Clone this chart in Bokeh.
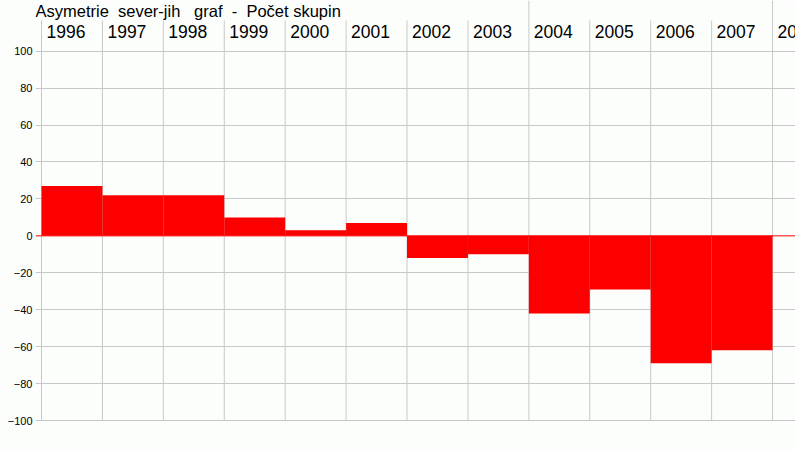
from bokeh.plotting import figure
from bokeh.models import Range1d, FixedTicker, Span
from bokeh.core.properties import value
from bokeh.embed import file_html
from bokeh.resources import INLINE

# ---- data ----
years = ["1996", "1997", "1998", "1999", "2000", "2001", "2002",
         "2003", "2004", "2005", "2006", "2007", "2008"]
values = [27, 22, 22, 10, 3, 7, -12, -10, -42, -29, -69, -62, 0]
y_ticks = [-100, -80, -60, -40, -20, 0, 20, 40, 60, 80, 100]
title_text = "Asymetrie\u00a0 sever-jih\u00a0\u00a0 graf\u00a0 -\u00a0 Počet skupin"

# ---- layout constants (reference pixel geometry) ----
W, H = 795, 450
COL = 60.92                 # px per year column
X0_PX = 41                  # px of first column edge
FRAME_L_PX = 35
FRAME_B_PX = 422
ZERO_PX = 235.35
PPU = 1.8465                # px per value unit

def ypx(py):
    return (ZERO_PX - py) / PPU

x_start = (FRAME_L_PX - X0_PX) / COL
x_end = (W - X0_PX) / COL
y_end = ypx(0)
y_start = ypx(FRAME_B_PX)

BG = "#fcfefc"
GRID = "#c8c8c8"
RED = "#fc0000"
FONT = "Liberation Sans"

p = figure(width=W, height=H, output_backend="svg", toolbar_location=None,
           x_range=Range1d(x_start, x_end), y_range=Range1d(y_start, y_end),
           x_axis_location=None, min_border_left=FRAME_L_PX,
           min_border_right=0, min_border_top=0,
           min_border_bottom=H - FRAME_B_PX)
p.background_fill_color = BG
p.border_fill_color = BG
p.outline_line_color = None

# y axis / horizontal grid
p.yaxis.ticker = FixedTicker(ticks=y_ticks)
p.yaxis.axis_line_color = None
p.yaxis.major_tick_line_color = None
p.yaxis.minor_tick_line_color = None
p.yaxis.major_tick_out = 0
p.yaxis.major_tick_in = 0
p.yaxis.major_label_standoff = 3
p.yaxis.major_label_text_font = FONT
p.yaxis.major_label_text_font_size = "11px"
p.yaxis.major_label_text_color = "black"
p.ygrid.grid_line_color = GRID
p.ygrid.ticker = FixedTicker(ticks=[t for t in y_ticks if t != 0])
p.xgrid.visible = False

# vertical column lines
n = len(years)
xs = list(range(n))
tops = [y_end if (i % 4 == 0 and i >= 8) else ypx(20) for i in xs]
p.segment(x0=xs, y0=[-100] * n, x1=xs, y1=tops, line_color=GRID, line_width=1)

# step bars
left = [i for i in range(n)]
right = [i + 1 for i in range(n)]
bottom = [min(0, v) for v in values]
top = [max(0, v) for v in values]
p.quad(left=left, right=right, bottom=bottom, top=top,
       fill_color=RED, line_color=None)

p.add_layout(Span(location=0, dimension="width", line_color=RED, line_width=1))

# year labels
p.text(x=xs, y=[ypx(31.2)] * n, text=years, x_offset=5,
       text_font=value(FONT), text_font_size="17.5px", text_color="black",
       text_align="left", text_baseline="middle")

# title
p.text(x=[x_start], y=[ypx(10.5)], text=[title_text],
       text_font=value(FONT), text_font_size="16.5px", text_color="black",
       text_align="left", text_baseline="middle")

open("out.html", "w").write(file_html(p, INLINE))
